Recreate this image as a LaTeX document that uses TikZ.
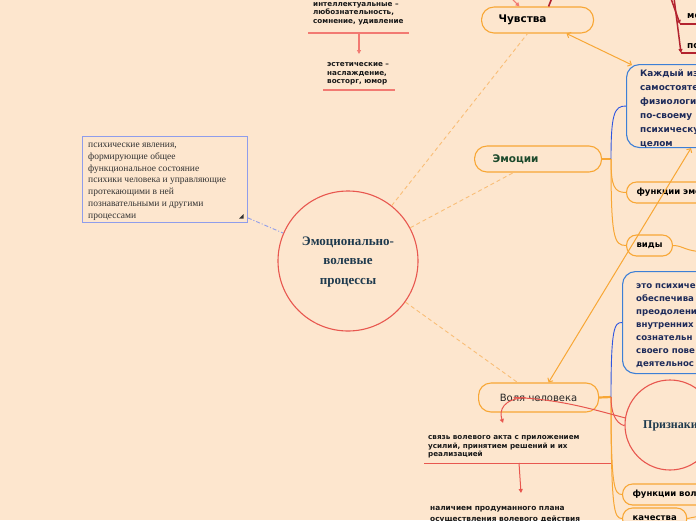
\documentclass[tikz,border=0pt]{standalone}
\usepackage{fontspec}
\setmainfont{Liberation Serif}
\newfontfamily\dv{DejaVu Sans}
\usetikzlibrary{arrows.meta}
\definecolor{bg}{HTML}{FDE6CE}
\definecolor{orC}{HTML}{F8A735}
\definecolor{orL}{HTML}{F9BE77}
\definecolor{redC}{HTML}{E8574F}
\definecolor{salC}{HTML}{F27A72}
\definecolor{dred}{HTML}{B3232F}
\definecolor{blC}{HTML}{3D7FD6}
\definecolor{blL}{HTML}{2F56E0}
\definecolor{noteB}{HTML}{8F9DEB}
\definecolor{navy}{HTML}{1E2B5A}
\definecolor{slate}{HTML}{1E3A4E}
\definecolor{grn}{HTML}{1D4A2C}
\begin{document}
\begin{tikzpicture}[x=1pt,y=-1pt,
  mainpill/.style={draw=orC, line width=1.1pt, fill=bg, rounded corners=12.5pt, minimum height=26pt, inner ysep=0pt, anchor=west, align=left, font=\dv\bfseries\fontsize{10.5}{12}\selectfont},
  subpill/.style={draw=orC, line width=1.1pt, fill=bg, rounded corners=10pt, minimum height=21pt, inner xsep=10pt, inner ysep=0pt, anchor=west, font=\dv\bfseries\fontsize{8.5}{10}\selectfont, text=black},
  bluebox/.style={draw=blC, line width=1.1pt, fill=bg, rounded corners=13pt, anchor=north west, inner sep=0pt},
  bluetext/.style={anchor=base west, inner sep=0pt, align=left, text=navy},
  smalltxt/.style={anchor=base west, inner sep=0pt, align=left, text=black!90},
  conn/.style={draw=orC, line width=1pt},
  stem/.style={draw=orC, line width=2.2pt},
  dashedconn/.style={draw=orL, line width=0.9pt, dash pattern=on 4pt off 3pt},
  redline/.style={draw=redC, line width=1pt},
  salline/.style={draw=salC, line width=1.5pt},
  tipR/.style={-{Triangle[length=4pt,width=4pt]}},
  barb/.style={{Straight Barb[length=3pt,width=6pt]}-{Straight Barb[length=3pt,width=6pt]}},
]
\useasboundingbox (0,0) rectangle (696,520);
\fill[bg] (0,0) rectangle (696,520);
\clip (0,0) rectangle (696,520);

% ---------- off-canvas / helper coordinates
\coordinate (offS1) at (503,-10);
\coordinate (offD1) at (556,-12);
\coordinate (offM1) at (668,-10);
\coordinate (cM) at (680,24);
\coordinate (offM2) at (710,24);
\coordinate (offP1) at (673,-10);
\coordinate (cP) at (681,53);
\coordinate (offP2) at (710,53);
\coordinate (offV) at (710,252);
\coordinate (offK) at (710,514);
\coordinate (estem) at (611,159);
\coordinate (vstem) at (611,397);
\coordinate (ulIa) at (308,33);
\coordinate (ulIb) at (409,33);
\coordinate (ulIm) at (359,33);
\coordinate (estTop) at (359,54);
\coordinate (ulEa) at (323,90);
\coordinate (ulEb) at (395,90);
\coordinate (ulSa) at (424,463);
\coordinate (ulSb) at (611,463);
\coordinate (ulSm) at (519,463);
\coordinate (nalTop) at (521,493);
\coordinate (svTop) at (503,423);

% ---------- nodes
\node[circle, draw=redC, line width=1.1pt, fill=bg, minimum size=140pt, inner sep=0pt] (circ) at (348,261) {};
\node[anchor=base, align=center, inner sep=0pt, font=\bfseries\fontsize{13}{19.5}\selectfont, text=slate] (circT) at (348,284) {Эмоционально-\\волевые\\процессы};

\node[draw=noteB, line width=0.9pt, fill=bg, anchor=north west, minimum width=165pt, minimum height=86pt, inner sep=0pt] (note) at (82,136) {};
\node[anchor=base west, align=left, inner sep=0pt, font=\fontsize{9.5}{11.7}\selectfont, text=black!80] (noteT) at (88,218) {психические явления,\\формирующие общее\\функциональное состояние\\психики человека и управляющие\\протекающими в ней\\познавательными и другими\\процессами};
\fill[black!80] (243.5,214) -- (243.5,218.5) -- (239,218.5) -- cycle;

\node[mainpill, inner xsep=17pt, text width=78pt, text=black] (chuv) at (481,20) {Чувства};
\node[mainpill, inner xsep=18pt, text width=91pt, text=grn] (emo) at (474,159) {Эмоции};
\node[mainpill, inner xsep=17pt, minimum height=29pt, text width=86pt, align=center, font=\dv\fontsize{10}{12}\selectfont, text=black!85] (vol) at (478,397.5) {Воля человека};

\node[bluebox, minimum width=130pt, minimum height=83pt] (kazh) at (626,64) {};
\node[bluetext, font=\dv\bfseries\fontsize{8.9}{14}\selectfont] (kazhT) at (640,146) {Каждый из\\самостояте\\физиологи\\по-своему\\психическу\\целом};

\node[subpill, minimum width=110pt, align=left, text width=90pt] (fem) at (626,192.5) {функции эмоций};
\node[subpill] (vidy) at (626,245.5) {виды};

\node[bluebox, minimum width=130pt, minimum height=102pt] (psy) at (622,271) {};
\node[bluetext, font=\dv\bfseries\fontsize{8.6}{13}\selectfont] (psyT) at (636,366) {это психиче\\обеспечива\\преодолени\\внутренних\\сознательн\\своего пове\\деятельнос};

\node[circle, draw=redC, line width=1.1pt, fill=bg, minimum size=90pt, inner sep=0pt] (priz) at (670,425) {};
\node[anchor=base west, inner sep=0pt, font=\bfseries\fontsize{12}{14}\selectfont, text=slate] (prizT) at (643,428.5) {Признаки};

\node[subpill, minimum width=100pt, align=left, text width=80pt] (fvol) at (622,494.5) {функции воли};
\node[subpill] (kach) at (622,518.5) {качества};

\node[smalltxt, font=\dv\bfseries\fontsize{7.2}{8.2}\selectfont] (intel) at (313,23) {интеллектуальные –\\любознательность,\\сомнение, удивление};
\node[smalltxt, font=\dv\bfseries\fontsize{7.2}{8.5}\selectfont] (estet) at (327,83.5) {эстетические –\\наслаждение,\\восторг, юмор};
\node[smalltxt, font=\dv\bfseries\fontsize{7.2}{8.5}\selectfont] (svyaz) at (428,456.5) {связь волевого акта с приложением\\усилий, принятием решений и их\\реализацией};
\node[smalltxt, font=\dv\bfseries\fontsize{7.4}{10.5}\selectfont] (nalich) at (430,521) {наличием продуманного плана\\осуществления волевого действия};
\node[anchor=base west, inner sep=0pt, font=\dv\bfseries\fontsize{9}{10}\selectfont] (mo) at (687,18.5) {мо};
\node[anchor=base west, inner sep=0pt, font=\dv\bfseries\fontsize{9}{10}\selectfont] (po) at (687,48.5) {по};

% ---------- connectors
\draw[dashedconn] (circ) -- ([xshift=-10pt]chuv.south);
\draw[dashedconn] (circ) -- ([xshift=-24.5pt]emo.south);
\draw[dashedconn] (circ) -- ([xshift=-21pt]vol.north);
\draw[draw=noteB, line width=0.9pt, dash pattern=on 4pt off 2pt on 1pt off 2pt] ([yshift=5pt]note.south east) -- (circ);

\draw[stem] (emo.east) -- (estem);
\draw[draw=blL, line width=0.9pt] (estem) .. controls (611,115) and (614,105.5) .. (kazh.west);
\draw[conn] (estem) .. controls (611,186) and (614,192.5) .. (fem.west);
\draw[conn] (estem) .. controls (611,238) and (614,245.5) .. (vidy.west);
\draw[conn] (vidy.east) .. controls (684,245.5) and (684,252) .. (offV);

\draw[stem] (vol.east) -- (vstem);
\draw[draw=blL, line width=0.9pt] (vstem) .. controls (611,330) and (614,322) .. (psy.west);
\draw[conn] (vstem) .. controls (611,486) and (614,494.5) .. (fvol.west);
\draw[conn] (vstem) .. controls (611,510) and (614,518.5) .. (kach.west);
\draw[conn] (kach.east) -- (offK);

\draw[conn, barb] ([xshift=29pt]chuv.south) -- ([xshift=6pt,yshift=-1pt]kazh.north west);
\draw[conn, barb] ([xshift=10pt]vol.north) -- ([xshift=65pt]kazh.south west);

\draw[redline] ([xshift=-25pt]vol.center) .. controls (560,399) and (595,410) .. (priz.171);
\draw[redline] (vstem) .. controls (611,412) and (615,423) .. (priz.181);
\draw[redline, tipR] ([xshift=-13pt]vol.center) .. controls (503,399) and (499,410) .. (svTop);
\draw[redline] (ulSa) -- (ulSb);
\draw[redline, tipR] (ulSm) -- (nalTop);

\draw[salline] (ulIa) -- (ulIb);
\draw[salline, tipR] (ulIm) -- (estTop);
\draw[draw=salC, line width=1.1pt] (ulEa) -- (ulEb);

\draw[draw=salC, line width=1pt, tipR] (offS1) -- ([xshift=-18pt]chuv.north);
\draw[draw=dred, line width=1.6pt] ([xshift=11pt]chuv.north) -- (offD1);
\draw[draw=dred, line width=1.5pt, tipR] (offM1) -- (cM);
\draw[draw=dred, line width=1.5pt] (cM) -- (offM2);
\draw[draw=dred, line width=1.5pt, tipR] (offP1) -- (cP);
\draw[draw=dred, line width=1.5pt] (cP) -- (offP2);
\end{tikzpicture}
\end{document}
